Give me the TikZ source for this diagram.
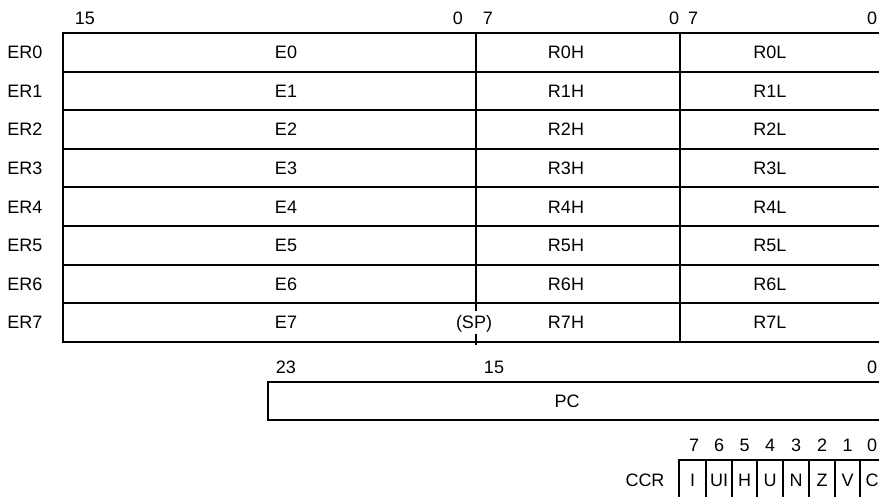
\documentclass[tikz,border=0pt]{standalone}
\usepackage{fontspec}
\setmainfont{Liberation Sans}
\usetikzlibrary{positioning, calc}

\begin{document}
\begin{tikzpicture}[x=1pt, y=-1pt,
	reg/.style={line width=1.9pt},
	lbl/.style={inner sep=0pt, font=\fontsize{18}{21}\selectfont,
	text height=12.9pt, text depth=0pt}]
			
			\useasboundingbox (0,0) rectangle (879,497);
			
			% General registers
			
			\draw[reg] (63,33) rectangle (890,342);
			
			\draw[reg] (63,71.6) -- (890,71.6);
			\draw[reg] (63,110.2) -- (890,110.2);
			\draw[reg] (63,148.8) -- (890,148.8);
			\draw[reg] (63,187.4) -- (890,187.4);
			\draw[reg] (63,226) -- (890,226);
			\draw[reg] (63,264.6) -- (890,264.6);
			\draw[reg] (63,303.2) -- (890,303.2);
			
			\draw[reg] (476,33) -- (476,311);
			\draw[reg] (476,334) -- (476,345);
			\draw[reg] (680,33) -- (680,342);
			
			
			\node[lbl] (top15) at (85,18) {15};
			\node[lbl] (top0a) at (458,18) {0};
			\node[lbl] (top7a) at (488,18) {7};
			\node[lbl] (top0b) at (674,18) {0};
			\node[lbl] (top7b) at (693,18) {7};
			\node[lbl] (top0c) at (872,18) {0};
			
			
			\node[lbl] (er0) at (25,52.3) {ER0};
			\node[lbl] (er1) at (25,90.9) {ER1};
			\node[lbl] (er2) at (25,129.5) {ER2};
			\node[lbl] (er3) at (25,168.1) {ER3};
			\node[lbl] (er4) at (25,206.7) {ER4};
			\node[lbl] (er5) at (25,245.3) {ER5};
			\node[lbl] (er6) at (25,283.9) {ER6};
			\node[lbl] (er7) at (25,322.5) {ER7};
			
			\node[lbl] (e0) at ($(er0) + (261,0)$) {E0};
			\node[lbl] (e1) at ($(er1) + (261,0)$) {E1};
			\node[lbl] (e2) at ($(er2) + (261,0)$) {E2};
			\node[lbl] (e3) at ($(er3) + (261,0)$) {E3};
			\node[lbl] (e4) at ($(er4) + (261,0)$) {E4};
			\node[lbl] (e5) at ($(er5) + (261,0)$) {E5};
			\node[lbl] (e6) at ($(er6) + (261,0)$) {E6};
			\node[lbl] (e7) at ($(er7) + (261,0)$) {E7};
			
			\node[lbl] (r0h) at ($(er0) + (541,0)$) {R0H};
			\node[lbl] (r1h) at ($(er1) + (541,0)$) {R1H};
			\node[lbl] (r2h) at ($(er2) + (541,0)$) {R2H};
			\node[lbl] (r3h) at ($(er3) + (541,0)$) {R3H};
			\node[lbl] (r4h) at ($(er4) + (541,0)$) {R4H};
			\node[lbl] (r5h) at ($(er5) + (541,0)$) {R5H};
			\node[lbl] (r6h) at ($(er6) + (541,0)$) {R6H};
			\node[lbl] (r7h) at ($(er7) + (541,0)$) {R7H};
			
			\node[lbl] (r0l) at ($(er0) + (745,0)$) {R0L};
			\node[lbl] (r1l) at ($(er1) + (745,0)$) {R1L};
			\node[lbl] (r2l) at ($(er2) + (745,0)$) {R2L};
			\node[lbl] (r3l) at ($(er3) + (745,0)$) {R3L};
			\node[lbl] (r4l) at ($(er4) + (745,0)$) {R4L};
			\node[lbl] (r5l) at ($(er5) + (745,0)$) {R5L};
			\node[lbl] (r6l) at ($(er6) + (745,0)$) {R6L};
			\node[lbl] (r7l) at ($(er7) + (745,0)$) {R7L};
			
			\node[lbl] (sp) at ($(er7) + (449,0)$) {(SP)};
			
			
			% Program counter
			
			\draw[reg] (268,382) rectangle (890,420);
			
			\node[lbl] (pc23) at (286,367) {23};
			\node[lbl] (pc15) at (494,367) {15};
			\node[lbl] (pc0) at (872,367) {0};
			
			\node[lbl] (pc) at (567,401) {PC};
			
			
			% Condition code register
			
			\draw[reg] (679,460) rectangle (890,505);
			\draw[reg] (706,460) -- (706,505);
			\draw[reg] (732,460) -- (732,505);
			\draw[reg] (757,460) -- (757,505);
			\draw[reg] (783,460) -- (783,505);
			\draw[reg] (809,460) -- (809,505);
			\draw[reg] (835,460) -- (835,505);
			\draw[reg] (860,460) -- (860,505);
			
			\node[lbl] (ccr) at (645,480) {CCR};
			
			\node[lbl] (flagi) at (692.5,480) {I};
			\node[lbl] (flagui) at (719,480) {UI};
			\node[lbl] (flagh) at (744.5,480) {H};
			\node[lbl] (flagu) at (770,480) {U};
			\node[lbl] (flagn) at (796,480) {N};
			\node[lbl] (flagz) at (822,480) {Z};
			\node[lbl] (flagv) at (847.5,480) {V};
			\node[lbl] (flagc) at (872,480) {C};
			
			\node[lbl] (bit7) at ($(flagi) + (1.5,-35)$) {7};
			\node[lbl] (bit6) at ($(flagui) + (0,-35)$) {6};
			\node[lbl] (bit5) at ($(flagh) + (0,-35)$) {5};
			\node[lbl] (bit4) at ($(flagu) + (0,-35)$) {4};
			\node[lbl] (bit3) at ($(flagn) + (0,-35)$) {3};
			\node[lbl] (bit2) at ($(flagz) + (0,-35)$) {2};
			\node[lbl] (bit1) at ($(flagv) + (0,-35)$) {1};
			\node[lbl] (bit0) at ($(flagc) + (0,-35)$) {0};
			
		\end{tikzpicture}
\end{document}
